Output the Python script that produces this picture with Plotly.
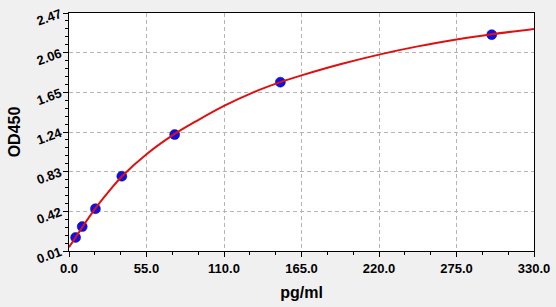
import plotly.graph_objects as go

# Standard points
conc = [4.69, 9.38, 18.75, 37.5, 75, 150, 300]
od = [0.15, 0.262, 0.447, 0.783, 1.213, 1.755, 2.246]

# Fitted curve
curve_x = [0, 4.69, 9.38, 18.75, 28, 37.5, 55, 75, 90, 110, 130, 150, 165, 192.5, 220, 247.5, 275, 300, 330]
curve_y = [0.05, 0.15, 0.255, 0.45, 0.62, 0.78, 1.01, 1.22, 1.35, 1.51, 1.645, 1.755, 1.825, 1.94, 2.04, 2.125, 2.196, 2.25, 2.306]

x_ticks = [0, 55, 110, 165, 220, 275, 330]
x_labels = ["0.0", "55.0", "110.0", "165.0", "220.0", "275.0", "330.0"]
y_ticks = [0.01, 0.42, 0.83, 1.24, 1.65, 2.06, 2.47]
y_labels = ["0.01", "0.42", "0.83", "1.24", "1.65", "2.06", "2.47"]

fig = go.Figure()
fig.add_trace(go.Scatter(x=conc, y=od, mode="markers",
                         marker=dict(color="#1010e0", size=10,
                                     line=dict(color="#0000b0", width=0.5)),
                         showlegend=False))
fig.add_trace(go.Scatter(x=curve_x, y=curve_y, mode="lines", line_shape="spline",
                         line=dict(color="#e01010", width=2), showlegend=False))

font_ticks = dict(family="Liberation Sans", size=13, color="black")
fig.update_layout(
    width=556, height=307,
    margin=dict(l=69, r=18, t=6, b=56),
    paper_bgcolor="#f0f0f0", plot_bgcolor="white",
    font=dict(family="Liberation Sans", color="black"),
)
fig.update_xaxes(
    range=[0, 330], tickvals=x_ticks, ticktext=["<b>%s</b>" % t for t in x_labels],
    tickfont=font_ticks, ticks="outside", ticklen=5, tickcolor="black",
    ticklabeloverflow="allow",
    showline=True, linecolor="black", linewidth=1, mirror=True,
    showgrid=True, gridcolor="#b4b4b4", griddash="4px,3px", gridwidth=1,
    zeroline=False,
    minor=dict(dtick=55/3, tick0=0, ticks="outside", ticklen=3, tickcolor="black", showgrid=False),
    title=dict(text="<b>pg/ml</b>", font=dict(size=16, family="Liberation Sans"), standoff=12),
)
fig.update_yaxes(
    range=[0.01, 2.47], tickvals=y_ticks, ticktext=["<b>%s</b>" % t for t in y_labels],
    tickfont=font_ticks, tickangle=-20, ticks="outside", ticklen=5, tickcolor="black",
    ticklabeloverflow="allow",
    showline=True, linecolor="black", linewidth=1, mirror=True,
    showgrid=True, gridcolor="#b4b4b4", griddash="4px,3px", gridwidth=1,
    zeroline=False,
    minor=dict(dtick=0.082, tick0=0.01, ticks="outside", ticklen=3, tickcolor="black", showgrid=False),
    title=dict(text="<b>OD450</b>", font=dict(size=16, family="Liberation Sans"), standoff=10),
)

fig.write_html("out.html")
